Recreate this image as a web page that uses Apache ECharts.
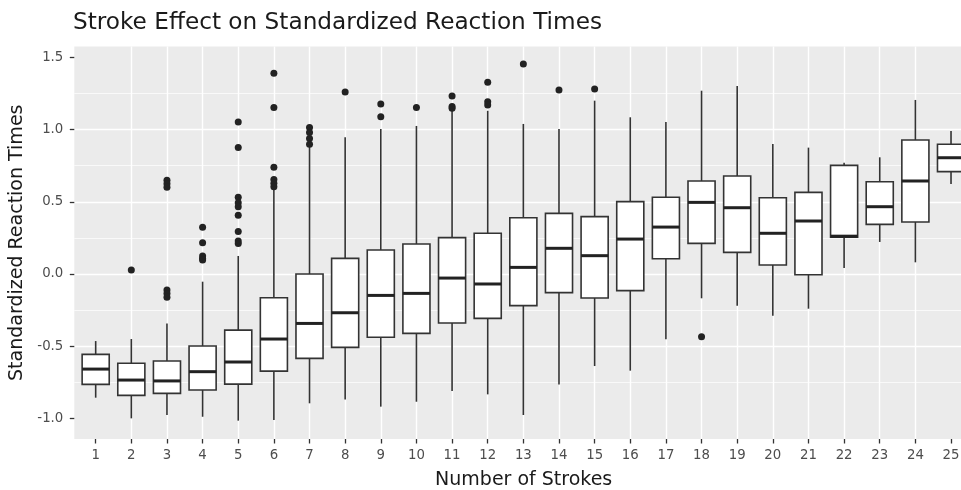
<!DOCTYPE html>
<html><head><meta charset="utf-8">
<script src="https://cdn.jsdelivr.net/npm/echarts@6/dist/echarts.min.js"></script>
<style>html,body{margin:0;padding:0;background:#fff}#c{width:961px;height:490px}</style>
</head><body><div id="c"></div>
<script>
// ---- data ----
const categories = [1,2,3,4,5,6,7,8,9,10,11,12,13,14,15,16,17,18,19,20,21,22,23,24,25];
const whiskerLow  = [-0.856,-0.999,-0.976,-0.988,-1.015,-1.011,-0.895,-0.868,-0.918,-0.884,-0.810,-0.833,-0.976,-0.764,-0.637,-0.669,-0.452,-0.168,-0.219,-0.288,-0.240,0.042,0.222,0.081,0.623];
const q1          = [-0.764,-0.840,-0.826,-0.803,-0.762,-0.672,-0.584,-0.508,-0.438,-0.411,-0.339,-0.307,-0.219,-0.129,-0.166,-0.115,0.106,0.212,0.150,0.062,-0.005,0.255,0.344,0.360,0.709];
const median      = [-0.658,-0.734,-0.740,-0.676,-0.609,-0.450,-0.342,-0.268,-0.148,-0.134,-0.028,-0.069,0.046,0.178,0.127,0.242,0.325,0.496,0.459,0.282,0.367,0.262,0.466,0.644,0.805];
const q3          = [-0.556,-0.618,-0.602,-0.498,-0.388,-0.164,0.000,0.108,0.166,0.208,0.252,0.282,0.390,0.420,0.397,0.501,0.531,0.644,0.679,0.528,0.565,0.752,0.639,0.928,0.898];
const whiskerHigh = [-0.464,-0.450,-0.342,-0.053,0.125,0.590,0.880,0.946,1.004,1.025,1.130,1.130,1.039,1.004,1.200,1.085,1.052,1.269,1.302,0.900,0.875,0.771,0.808,1.205,0.990];
const outlierCategory = [2, 3,3,3,3,3,3, 4,4,4,4,4, 5,5,5,5,5,5,5,5,5, 6,6,6,6,6,6, 7,7,7,7, 8, 9,9, 10, 11,11,11, 12,12,12, 13, 14, 15, 18];
const outlierValue    = [0.028, 0.650,0.625,0.600,-0.110,-0.135,-0.160, 0.323,0.217,0.125,0.108,0.097, 1.052,0.875,0.531,0.494,0.466,0.406,0.295,0.228,0.212, 1.389,1.152,0.739,0.655,0.628,0.605, 1.015,0.979,0.939,0.898, 1.260, 1.177,1.089, 1.152, 1.232,1.159,1.147, 1.327,1.193,1.170, 1.454, 1.274, 1.281, -0.434];
const yTicks = [-1.0,-0.5,0.0,0.5,1.0,1.5];
const yMinorTicks = [-0.75,-0.25,0.25,0.75,1.25];
const titleText = 'Stroke Effect on Standardized Reaction Times';
const xName = 'Number of Strokes';
const yName = 'Standardized Reaction Times';

// ---- build ----
const boxData = categories.map((c,i)=>[c, whiskerLow[i], q1[i], median[i], q3[i], whiskerHigh[i]]);
const outlierData = outlierCategory.map((c,i)=>[c, outlierValue[i]]);
const FONT = 'DejaVu Sans';
const isInt = v => Math.abs(v - Math.round(v)) < 1e-6;
const isHalf = v => Math.abs(v*2 - Math.round(v*2)) < 1e-6;

const chart = echarts.init(document.getElementById('c'), null, {renderer:'canvas'});
chart.setOption({
  animation: false,
  backgroundColor: '#ffffff',
  title: {
    text: titleText, left: 73, top: 11, padding: 0,
    textStyle: {fontFamily: FONT, fontSize: 23.2, fontWeight: 'normal', color: '#1a1a1a'}
  },
  grid: {
    left: 74.3, right: 0, top: 46.5, bottom: 51,
    show: true, backgroundColor: '#EBEBEB', borderWidth: 0,
    outerBoundsMode: 'none'
  },
  xAxis: {
    type: 'value', min: 0.4, max: 25.28, splitNumber: 25, position: 'bottom',
    name: xName, nameLocation: 'middle', nameGap: 32,
    nameTextStyle: {fontFamily: FONT, fontSize: 19, color: '#1a1a1a', padding: [0,0,0,12]},
    axisLine: {show: true, onZero: false, lineStyle: {color: 'rgba(0,0,0,0)', width: 1}},
    axisTick: {show: true, length: 4.5, customValues: categories, lineStyle: {color: '#333333', width: 1.3}},
    axisLabel: {show: true, margin: 10, customValues: categories, fontFamily: FONT, fontSize: 13.3, color: '#4D4D4D',
      formatter: v => isInt(v) ? String(Math.round(v)) : ''},
    splitLine: {show: true, showMinLine: false, showMaxLine: false, lineStyle: {color: '#ffffff', width: 1.4}}
  },
  yAxis: {
    type: 'value', min: -1.142, max: 1.575, splitNumber: 5,
    name: yName, nameLocation: 'middle', nameGap: 38, nameRotate: 90,
    nameTextStyle: {fontFamily: FONT, fontSize: 19, color: '#1a1a1a'},
    axisLine: {show: true, onZero: false, lineStyle: {color: 'rgba(0,0,0,0)', width: 1}},
    axisTick: {show: true, length: 4.5, customValues: yTicks, lineStyle: {color: '#333333', width: 1.3}},
    axisLabel: {show: true, margin: 11, customValues: yTicks, fontFamily: FONT, fontSize: 13.3, color: '#4D4D4D',
      formatter: v => isHalf(v) ? v.toFixed(1) : ''},
    splitLine: {show: true, showMinLine: false, showMaxLine: false, lineStyle: {color: '#ffffff', width: 1.4}}
  },
  series: [
    {
      type: 'line', data: [], silent: true, z: 1,
      markLine: {
        silent: true, z: 1, symbol: ['none','none'], animation: false,
        label: {show: false},
        lineStyle: {color: '#ffffff', width: 0.7, type: 'solid'},
        data: yMinorTicks.map(v => ({yAxis: v}))
      }
    },
    {
      type: 'custom', z: 3, silent: true,
      data: boxData,
      encode: {x: 0, y: [1,2,3,4,5]},
      renderItem: function (params, api) {
        const x = api.value(0);
        const pLow = api.coord([x, api.value(1)]);
        const pQ1 = api.coord([x, api.value(2)]);
        const pMed = api.coord([x, api.value(3)]);
        const pQ3 = api.coord([x, api.value(4)]);
        const pHigh = api.coord([x, api.value(5)]);
        const halfW = api.size([0.76, 0])[0] / 2;
        const stroke = '#333333';
        return {
          type: 'group',
          children: [
            {type: 'line', shape: {x1: pHigh[0], y1: pHigh[1], x2: pQ3[0], y2: pQ3[1]}, style: {stroke: stroke, lineWidth: 1.6}},
            {type: 'line', shape: {x1: pLow[0], y1: pLow[1], x2: pQ1[0], y2: pQ1[1]}, style: {stroke: stroke, lineWidth: 1.6}},
            {type: 'rect', shape: {x: pQ3[0] - halfW, y: pQ3[1], width: 2 * halfW, height: pQ1[1] - pQ3[1]},
             style: {fill: '#ffffff', stroke: stroke, lineWidth: 1.6}},
            {type: 'line', shape: {x1: pMed[0] - halfW, y1: pMed[1], x2: pMed[0] + halfW, y2: pMed[1]},
             style: {stroke: '#222222', lineWidth: 3}}
          ]
        };
      }
    },
    {
      type: 'scatter', z: 4, silent: true,
      data: outlierData,
      symbol: 'circle', symbolSize: 7,
      itemStyle: {color: '#222222', opacity: 1}
    }
  ]
});
</script>
</body></html>
